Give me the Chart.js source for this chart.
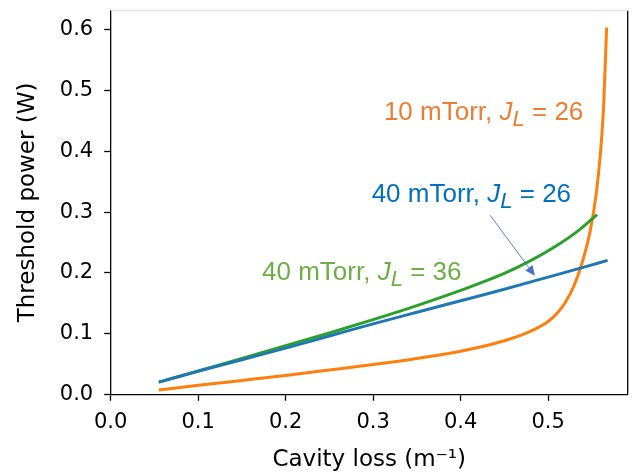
<!DOCTYPE html>
<html><head><meta charset="utf-8">
<script src="https://cdn.jsdelivr.net/npm/chart.js@4/dist/chart.umd.min.js"></script>
<style>html,body{margin:0;padding:0;background:#fff;}</style>
</head><body>
<canvas id="c" width="642" height="475"></canvas>
<script>
// ---- data ----
const xTicks = [0.0, 0.1, 0.2, 0.3, 0.4, 0.5];
const yTicks = [0.0, 0.1, 0.2, 0.3, 0.4, 0.5, 0.6];

const blueX = [0.055, 0.1, 0.15, 0.2, 0.25, 0.3, 0.35, 0.4, 0.45, 0.5, 0.54, 0.568];
const blueY = [0.020, 0.038, 0.057, 0.076, 0.096, 0.116, 0.135, 0.154, 0.173, 0.193, 0.209, 0.2205];

const greenX = [0.055, 0.1, 0.15, 0.2, 0.25, 0.3, 0.35, 0.4, 0.45, 0.48, 0.51, 0.535, 0.556];
const greenY = [0.020, 0.0385, 0.059, 0.080, 0.101, 0.123, 0.146, 0.171, 0.199, 0.220, 0.245, 0.270, 0.296];

const orangeX = [0.055, 0.1, 0.15, 0.2, 0.25, 0.3, 0.35, 0.4, 0.42, 0.45, 0.47, 0.485, 0.5, 0.51, 0.52, 0.53, 0.54, 0.548, 0.555, 0.56, 0.5635, 0.5669];
const orangeY = [0.007, 0.0148, 0.0228, 0.031, 0.040, 0.049, 0.059, 0.071, 0.077, 0.0881, 0.0977, 0.1072, 0.120, 0.133, 0.152, 0.180, 0.222, 0.268, 0.330, 0.400, 0.475, 0.604];

const xLabel = 'Cavity loss (m\u207B\u00B9)';
const yLabel = 'Threshold power (W)';

// annotation anchors in data units (left end of text baseline)
const notes = [
  {x: 0.3123, y: 0.4516, color: '#ED7D31', pre: '10 mTorr, ', post: ' = 26'},
  {x: 0.2983, y: 0.3163, color: '#0070C0', pre: '40 mTorr, ', post: ' = 26'},
  {x: 0.173,  y: 0.1877, color: '#70AD47', pre: '40 mTorr, ', post: ' = 36'}
];
const arrow = {x0: 0.4338, y0: 0.2947, x1: 0.4849, y1: 0.1951};

const pts = (xs, ys) => xs.map((x, i) => ({x, y: ys[i]}));

const frame = {
  id: 'frame',
  afterDraw(chart) {
    const {ctx, chartArea: a} = chart;
    ctx.save();
    ctx.strokeStyle = '#000'; ctx.lineWidth = 1.3;
    ctx.beginPath(); ctx.moveTo(a.right, a.top); ctx.lineTo(a.right, a.bottom); ctx.stroke();
    ctx.strokeStyle = '#e4e4e4';
    ctx.beginPath(); ctx.moveTo(a.left, a.top); ctx.lineTo(a.right, a.top); ctx.stroke();
    ctx.restore();
  }
};

const annot = {
  id: 'annot',
  afterDatasetsDraw(chart) {
    const {ctx, scales} = chart;
    const fs = 26, fam = '"Liberation Sans", Arial, sans-serif';
    ctx.save();
    ctx.textBaseline = 'alphabetic'; ctx.textAlign = 'left';
    notes.forEach(n => {
      let px = scales.x.getPixelForValue(n.x);
      const py = scales.y.getPixelForValue(n.y);
      ctx.fillStyle = n.color;
      ctx.font = fs + 'px ' + fam;
      ctx.fillText(n.pre, px, py); px += ctx.measureText(n.pre).width;
      ctx.font = 'italic ' + fs + 'px ' + fam;
      ctx.fillText('J', px, py); px += ctx.measureText('J').width;
      ctx.font = 'italic ' + (fs * 0.85) + 'px ' + fam;
      ctx.fillText('L', px, py + 6); px += ctx.measureText('L').width;
      ctx.font = fs + 'px ' + fam;
      ctx.fillText(n.post, px, py);
    });
    // arrow
    const x0 = scales.x.getPixelForValue(arrow.x0), y0 = scales.y.getPixelForValue(arrow.y0);
    const x1 = scales.x.getPixelForValue(arrow.x1), y1 = scales.y.getPixelForValue(arrow.y1);
    const ang = Math.atan2(y1 - y0, x1 - x0), L = 10, W = 4.5;
    const bx = x1 - L * Math.cos(ang), by = y1 - L * Math.sin(ang);
    ctx.strokeStyle = '#4472C4'; ctx.fillStyle = '#4472C4'; ctx.lineWidth = 0.9;
    ctx.beginPath(); ctx.moveTo(x0, y0); ctx.lineTo(bx, by); ctx.stroke();
    ctx.beginPath();
    ctx.moveTo(x1, y1);
    ctx.lineTo(bx + W * Math.sin(ang), by - W * Math.cos(ang));
    ctx.lineTo(bx - W * Math.sin(ang), by + W * Math.cos(ang));
    ctx.closePath(); ctx.fill();
    ctx.restore();
  }
};

const tickFont = {family: '"DejaVu Sans", sans-serif', size: 21};
const titleFont = {family: '"DejaVu Sans", sans-serif', size: 23};

new Chart(document.getElementById('c'), {
  type: 'scatter',
  data: {
    datasets: [
      {data: pts(blueX, blueY), borderColor: '#1f77b4'},
      {data: pts(greenX, greenY), borderColor: '#2ca02c'},
      {data: pts(orangeX, orangeY), borderColor: '#ff7f0e'}
    ].map(d => Object.assign(d, {showLine: true, pointRadius: 0, borderWidth: 3, cubicInterpolationMode: 'monotone', fill: false}))
  },
  options: {
    responsive: false, animation: false, devicePixelRatio: 1,
    layout: {padding: {left: 0, right: 14.3, top: 10.5, bottom: 0}},
    plugins: {legend: {display: false}, tooltip: {enabled: false}},
    scales: {
      x: {
        type: 'linear', min: 0, max: 0.591,
        afterBuildTicks: s => { s.ticks = xTicks.map(v => ({value: v})); },
        afterFit: s => { s.height = 80.7; s.paddingLeft = 0; s.paddingRight = 0; },
        ticks: {callback: v => v.toFixed(1), font: tickFont, color: '#000', padding: 9, maxRotation: 0, autoSkip: false},
        grid: {drawOnChartArea: false, drawTicks: true, tickLength: 6.5, tickWidth: 1.3, tickColor: '#000'},
        border: {display: true, color: '#000', width: 1.3},
        title: {display: true, text: xLabel, font: titleFont, color: '#000', padding: {top: 6, bottom: 1}}
      },
      y: {
        type: 'linear', min: 0, max: 0.632,
        afterBuildTicks: s => { s.ticks = yTicks.map(v => ({value: v})); },
        afterFit: s => { s.width = 110.7; s.paddingTop = 0; s.paddingBottom = 0; },
        ticks: {callback: v => v.toFixed(1), font: tickFont, color: '#000', padding: 11, autoSkip: false},
        grid: {drawOnChartArea: false, drawTicks: true, tickLength: 6.5, tickWidth: 1.3, tickColor: '#000'},
        border: {display: true, color: '#000', width: 1.3},
        title: {display: true, text: yLabel, font: titleFont, color: '#000', padding: {top: 14, bottom: 0}}
      }
    }
  },
  plugins: [frame, annot]
});
</script>
</body></html>
